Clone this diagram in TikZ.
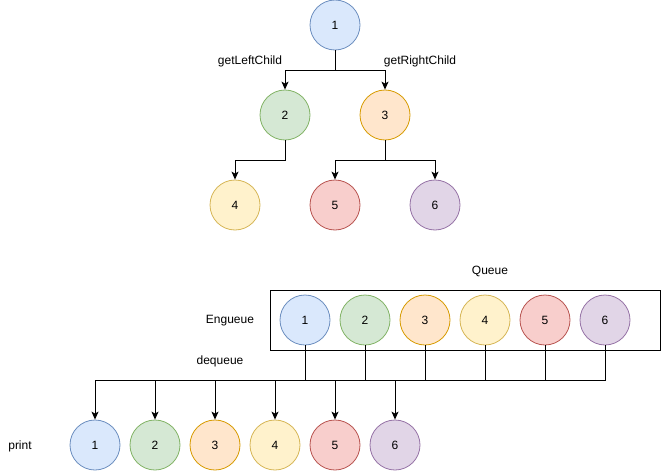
\documentclass[tikz,border=0pt]{standalone}
\usepackage{fontspec}
\setmainfont{Liberation Sans}
\usetikzlibrary{arrows.meta}
\definecolor{bluef}{HTML}{DAE8FC}\definecolor{blued}{HTML}{6C8EBF}
\definecolor{greenf}{HTML}{D5E8D4}\definecolor{greend}{HTML}{82B366}
\definecolor{orangef}{HTML}{FFE6CC}\definecolor{oranged}{HTML}{D79B00}
\definecolor{yellowf}{HTML}{FFF2CC}\definecolor{yellowd}{HTML}{D6B656}
\definecolor{redf}{HTML}{F8CECC}\definecolor{redd}{HTML}{B85450}
\definecolor{purplef}{HTML}{E1D5E7}\definecolor{purpled}{HTML}{9673A6}
\tikzset{
  nd/.style={circle,minimum size=50pt,inner sep=0pt,line width=0.8pt},
  c1/.style={nd,fill=bluef,draw=blued},
  c2/.style={nd,fill=greenf,draw=greend},
  c3/.style={nd,fill=orangef,draw=oranged},
  c4/.style={nd,fill=yellowf,draw=yellowd},
  c5/.style={nd,fill=redf,draw=redd},
  c6/.style={nd,fill=purplef,draw=purpled},
  lbl/.style={inner sep=0pt},
  conn/.style={line width=1pt,black},
  arr/.style={conn,-{Stealth[length=8pt,width=7pt,inset=2pt]}}
}
\begin{document}
\begin{tikzpicture}[x=1pt,y=-1pt,font=\fontsize{12}{14}\selectfont]
\useasboundingbox (0,0) rectangle (661,471);
% tree
\node[c1] (t1) at (335,25) {1};
\node[c2] (t2) at (285,115) {2};
\node[c3] (t3) at (385,115) {3};
\node[c4] (t4) at (235,205) {4};
\node[c5] (t5) at (335,205) {5};
\node[c6] (t6) at (435,205) {6};
\coordinate (y1) at (0,70);
\coordinate (y2) at (0,160);
\draw[arr] (t1.south) -- (t1.south |- y1) -| (t2.north);
\draw[arr] (t1.south) -- (t1.south |- y1) -| (t3.north);
\draw[arr] (t2.south) -- (t2.south |- y2) -| (t4.north);
\draw[arr] (t3.south) -- (t3.south |- y2) -| (t5.north);
\draw[arr] (t3.south) -- (t3.south |- y2) -| (t6.north);
\node[lbl] (gl) at (250,61) {getLeftChild};
\node[lbl] (gr) at (420,61) {getRightChild};
% queue
\node[lbl] (qlab) at (490,271) {Queue};
\node[draw,line width=1pt,minimum width=390pt,minimum height=60pt,inner sep=0pt] (qbox) at (465,320) {};
\node[lbl] (eng) at (230,321) {Engueue};
\node[lbl] (deq) at (220,361) {dequeue};
\node[lbl] (prt) at (20,446) {print};
\foreach \i/\x in {1/305,2/365,3/425,4/485,5/545,6/605}{
  \node[c\i] (q\i) at (\x,320) {\i};
}
\foreach \i/\x in {1/95,2/155,3/215,4/275,5/335,6/395}{
  \node[c\i] (p\i) at (\x,445) {\i};
}
\coordinate (y3) at (0,380);
\foreach \i in {1,...,6}{
  \draw[arr] (q\i.south) -- (q\i.south |- y3) -| (p\i.north);
}
\end{tikzpicture}
\end{document}
